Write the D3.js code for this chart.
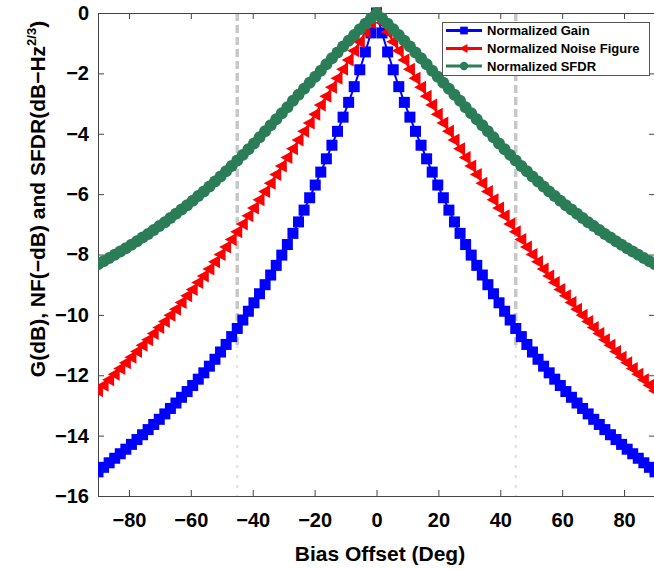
<!DOCTYPE html>
<html>
<head>
<meta charset="utf-8">
<script src="https://cdn.jsdelivr.net/npm/d3@7"></script>
<style>
  body { margin: 0; background: #fff; }
  svg { display: block; }
  text { font-family: "Liberation Sans", Arial, sans-serif; font-weight: bold; fill: #000; }
</style>
</head>
<body>
<svg id="chart" width="654" height="569"></svg>
<script>
// Bias offset sweep (degrees)
const biasOffset = [
  -90, -88.2, -86.4, -84.6, -82.8, -81, -79.2, -77.4, -75.6, -73.8,
  -72, -70.2, -68.4, -66.6, -64.8, -63, -61.2, -59.4, -57.6, -55.8,
  -54, -52.2, -50.4, -48.6, -46.8, -45, -43.2, -41.4, -39.6, -37.8,
  -36, -34.2, -32.4, -30.6, -28.8, -27, -25.2, -23.4, -21.6, -19.8,
  -18, -16.2, -14.4, -12.6, -10.8, -9, -7.2, -5.4, -3.6, -1.8,
  0,
  1.8, 3.6, 5.4, 7.2, 9, 10.8, 12.6, 14.4, 16.2, 18,
  19.8, 21.6, 23.4, 25.2, 27, 28.8, 30.6, 32.4, 34.2, 36,
  37.8, 39.6, 41.4, 43.2, 45, 46.8, 48.6, 50.4, 52.2, 54,
  55.8, 57.6, 59.4, 61.2, 63, 64.8, 66.6, 68.4, 70.2, 72,
  73.8, 75.6, 77.4, 79.2, 81, 82.8, 84.6, 86.4, 88.2, 90
];

// Normalized gain, dB
const gainDb = [
  -15.2, -15.05, -14.9, -14.75, -14.6, -14.45, -14.29, -14.13, -13.97, -13.8,
  -13.63, -13.46, -13.28, -13.1, -12.92, -12.73, -12.54, -12.34, -12.13, -11.92,
  -11.7, -11.47, -11.23, -10.98, -10.72, -10.45, -10.17, -9.88, -9.6, -9.3,
  -9.0, -8.68, -8.36, -8.02, -7.67, -7.3, -6.92, -6.53, -6.12, -5.7,
  -5.27, -4.83, -4.38, -3.92, -3.45, -2.96, -2.44, -1.88, -1.29, -0.66,
  0,
  -0.66, -1.29, -1.88, -2.44, -2.96, -3.45, -3.92, -4.38, -4.83, -5.27,
  -5.7, -6.12, -6.53, -6.92, -7.3, -7.67, -8.02, -8.36, -8.68, -9.0,
  -9.3, -9.6, -9.88, -10.17, -10.45, -10.72, -10.98, -11.23, -11.47, -11.7,
  -11.92, -12.13, -12.34, -12.54, -12.73, -12.92, -13.1, -13.28, -13.46, -13.63,
  -13.8, -13.97, -14.13, -14.29, -14.45, -14.6, -14.75, -14.9, -15.05, -15.2
];

// Normalized noise figure, -dB
const noiseFigureDb = [
  -12.51, -12.33, -12.15, -11.97, -11.78, -11.59, -11.4, -11.21, -11.01, -10.82,
  -10.62, -10.42, -10.22, -10.01, -9.81, -9.59, -9.37, -9.16, -8.93, -8.71,
  -8.48, -8.24, -8.0, -7.75, -7.5, -7.25, -6.99, -6.72, -6.46, -6.19,
  -5.91, -5.64, -5.35, -5.07, -4.79, -4.5, -4.21, -3.92, -3.64, -3.35,
  -3.05, -2.76, -2.46, -2.16, -1.86, -1.56, -1.25, -0.95, -0.63, -0.32,
  0,
  -0.32, -0.63, -0.95, -1.25, -1.56, -1.86, -2.16, -2.46, -2.76, -3.05,
  -3.35, -3.64, -3.92, -4.21, -4.5, -4.79, -5.07, -5.35, -5.64, -5.91,
  -6.19, -6.46, -6.72, -6.99, -7.25, -7.5, -7.75, -8.0, -8.24, -8.48,
  -8.71, -8.93, -9.16, -9.37, -9.59, -9.81, -10.01, -10.22, -10.42, -10.62,
  -10.82, -11.01, -11.21, -11.4, -11.59, -11.78, -11.97, -12.15, -12.33, -12.51
];

// Normalized SFDR, dB-Hz^(2/3)
const sfdrDb = [
  -8.32, -8.22, -8.12, -8.01, -7.9, -7.79, -7.68, -7.56, -7.44, -7.32,
  -7.19, -7.06, -6.93, -6.79, -6.65, -6.51, -6.37, -6.22, -6.06, -5.91,
  -5.75, -5.58, -5.42, -5.24, -5.07, -4.89, -4.7, -4.51, -4.32, -4.12,
  -3.92, -3.72, -3.52, -3.32, -3.12, -2.91, -2.71, -2.51, -2.31, -2.11,
  -1.91, -1.7, -1.5, -1.31, -1.11, -0.92, -0.73, -0.54, -0.36, -0.18,
  0,
  -0.18, -0.36, -0.54, -0.73, -0.92, -1.11, -1.31, -1.5, -1.7, -1.91,
  -2.11, -2.31, -2.51, -2.71, -2.91, -3.12, -3.32, -3.52, -3.72, -3.92,
  -4.12, -4.32, -4.51, -4.7, -4.89, -5.07, -5.24, -5.42, -5.58, -5.75,
  -5.91, -6.06, -6.22, -6.37, -6.51, -6.65, -6.79, -6.93, -7.06, -7.19,
  -7.32, -7.44, -7.56, -7.68, -7.79, -7.9, -8.01, -8.12, -8.22, -8.32
];

const seriesNames = ["Normalized Gain", "Normalized Noise Figure", "Normalized SFDR"];
const xTicks = [-80, -60, -40, -20, 0, 20, 40, 60, 80];
const yTicks = [0, -2, -4, -6, -8, -10, -12, -14, -16];
const guideOffsets = [-45, 45];   // reference bias points
const guideBreak = -11;           // guide turns faint below this level

const svg = d3.select("#chart");
const plot = { left: 98, right: 655, top: 13, bottom: 496 };

const x = d3.scaleLinear().domain([-90, 90]).range([plot.left, plot.right]);
const y = d3.scaleLinear().domain([-16, 0]).range([plot.bottom, plot.top]);

// clip to the horizontal extent of the axes box
svg.append("defs").append("clipPath").attr("id", "plotClip")
  .append("rect")
  .attr("x", plot.left).attr("y", 0)
  .attr("width", plot.right - plot.left).attr("height", plot.bottom);

// vertical guides at ±45°
const guides = svg.append("g");
guides.selectAll("line.upper").data(guideOffsets).join("line")
  .attr("class", "upper")
  .attr("x1", d => x(d)).attr("x2", d => x(d))
  .attr("y1", y(0)).attr("y2", y(guideBreak))
  .attr("stroke", "#c8c8c8").attr("stroke-width", 3.5)
  .attr("stroke-dasharray", "8,4");
guides.selectAll("line.lower").data(guideOffsets).join("line")
  .attr("class", "lower")
  .attr("x1", d => x(d)).attr("x2", d => x(d))
  .attr("y1", y(guideBreak)).attr("y2", y(-16))
  .attr("stroke", "#e0e0e0").attr("stroke-width", 2)
  .attr("stroke-dasharray", "3,7");

// axes box
const axisColor = "#444";
function styleAxis(g) {
  g.selectAll(".domain").attr("stroke", axisColor).attr("stroke-width", 1);
  g.selectAll(".tick line").attr("stroke", axisColor).attr("stroke-width", 1);
  g.attr("font-family", null).attr("font-size", null);
  g.selectAll(".tick text").attr("font-size", 20).attr("fill", "#000");
}

svg.append("g")
  .attr("transform", `translate(0,${plot.bottom})`)
  .call(d3.axisBottom(x).tickValues(xTicks).tickSizeInner(-6).tickSizeOuter(0).tickPadding(17))
  .call(styleAxis);
svg.append("g")
  .attr("transform", `translate(0,${plot.top})`)
  .call(d3.axisTop(x).tickValues(xTicks).tickSizeInner(-6).tickSizeOuter(0).tickFormat(""))
  .call(styleAxis);
svg.append("g")
  .attr("transform", `translate(${plot.left},0)`)
  .call(d3.axisLeft(y).tickValues(yTicks).tickSizeInner(-6).tickSizeOuter(0).tickPadding(9))
  .call(styleAxis);
svg.append("g")
  .attr("transform", `translate(${plot.right},0)`)
  .call(d3.axisRight(y).tickValues(yTicks).tickSizeInner(-6).tickSizeOuter(0).tickFormat(""))
  .call(styleAxis);

// marker shapes
const markers = {
  square: g => g.append("rect").attr("x", -5.5).attr("y", -5.5).attr("width", 11).attr("height", 11),
  triangleLeft: g => g.append("path").attr("d", "M-7,0L5,-6.5L5,6.5Z"),
  circle: g => g.append("circle").attr("r", 6)
};

const series = [
  { name: seriesNames[0], values: gainDb, color: "#0000ff", marker: "square" },
  { name: seriesNames[1], values: noiseFigureDb, color: "#ff0000", marker: "triangleLeft" },
  { name: seriesNames[2], values: sfdrDb, color: "#2b7d58", marker: "circle" }
];

const line = d3.line().x(d => x(d[0])).y(d => y(d[1]));
const curves = svg.append("g").attr("clip-path", "url(#plotClip)");

series.forEach(s => {
  const pts = biasOffset.map((b, i) => [b, s.values[i]]);
  const g = curves.append("g");
  g.append("path").datum(pts)
    .attr("d", line).attr("fill", "none")
    .attr("stroke", s.color).attr("stroke-width", 2);
  g.selectAll("g.pt").data(pts).join("g")
    .attr("class", "pt")
    .attr("transform", d => `translate(${x(d[0])},${y(d[1])})`)
    .each(function () { markers[s.marker](d3.select(this)); })
    .attr("fill", s.color);
});

// legend
const legend = svg.append("g");
legend.append("rect")
  .attr("x", 442.5).attr("y", 22.5).attr("width", 207).attr("height", 53)
  .attr("fill", "#fff").attr("stroke", "#555").attr("stroke-width", 1);
const rowY = [30.5, 48.5, 66];
series.forEach((s, i) => {
  const row = legend.append("g").attr("transform", `translate(0,${rowY[i]})`);
  row.append("line").attr("x1", 446).attr("x2", 482).attr("y1", 0).attr("y2", 0)
    .attr("stroke", s.color).attr("stroke-width", 3);
  const m = row.append("g").attr("fill", s.color);
  markers[s.marker](m);
  m.attr("transform", "translate(464,0) scale(0.7)");
  row.append("text").attr("x", 487).attr("y", 0).attr("dy", "0.35em")
    .attr("font-size", 13).text(s.name);
});

// axis titles
svg.append("text")
  .attr("x", 380).attr("y", 561)
  .attr("text-anchor", "middle").attr("font-size", 21)
  .text("Bias Offset (Deg)");

const yTitle = svg.append("text")
  .attr("transform", "translate(45,199) rotate(-90)")
  .attr("text-anchor", "middle").attr("font-size", 21);
yTitle.append("tspan").text("G(dB), NF(\u2212dB) and SFDR(dB\u2212Hz");
yTitle.append("tspan").attr("font-size", 13).attr("dy", -9).text("2/3");
yTitle.append("tspan").attr("dy", 9).text(")");
</script>
</body>
</html>
